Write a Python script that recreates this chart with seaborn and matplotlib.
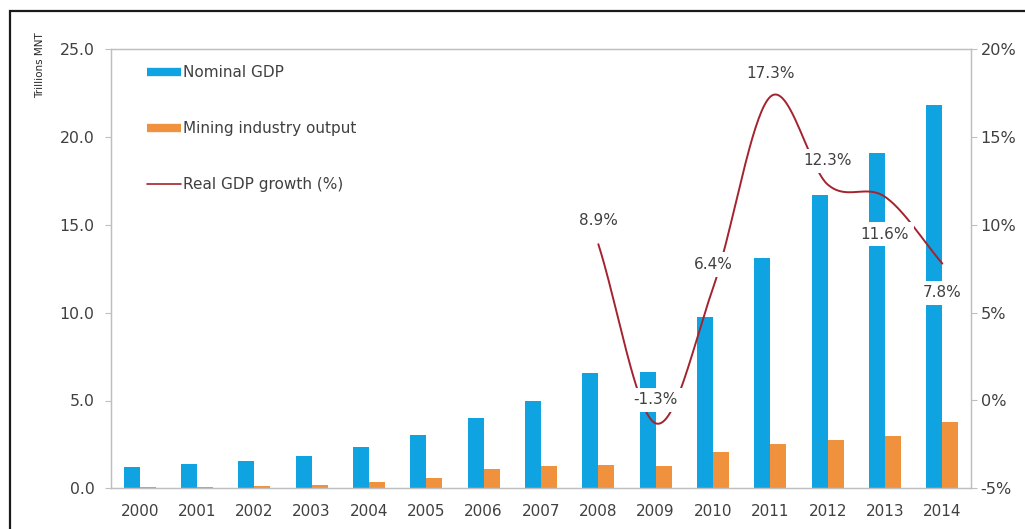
import numpy as np
import pandas as pd
import matplotlib
matplotlib.use("Agg")
import matplotlib.pyplot as plt
from matplotlib.lines import Line2D
from matplotlib.patches import Rectangle
import seaborn as sns

# ---- data -------------------------------------------------------------
years = [str(y) for y in range(2000, 2015)]
nominal_gdp = [1.22, 1.40, 1.54, 1.83, 2.35, 3.05, 3.98, 4.95, 6.55, 6.60,
               9.77, 13.10, 16.70, 19.10, 21.83]
mining_output = [0.08, 0.08, 0.14, 0.21, 0.36, 0.61, 1.12, 1.29, 1.31, 1.27,
                 2.07, 2.50, 2.73, 2.96, 3.80]
growth_years = [str(y) for y in range(2008, 2015)]
real_growth = [8.9, -1.3, 6.4, 17.3, 12.3, 11.6, 7.8]

left_ticks = [0, 5, 10, 15, 20, 25]
right_ticks = [-5, 0, 5, 10, 15, 20]

# ---- style -------------------------------------------------------------
sns.set_theme(style="white")
plt.rcParams["font.family"] = ["DejaVu Sans"]
TXT = "#404040"
GRID = "#BFBFBF"
BLUE = "#10A3E2"
ORANGE = "#F0913E"
RED = "#A3232E"

fig = plt.figure(figsize=(10.25, 5.29), dpi=100)
L, R, B, T = 111 / 1025, 971 / 1025, 1 - 488.3 / 529, 1 - 49.3 / 529
ax = fig.add_axes([L, B, R - L, T - B])

df = pd.DataFrame({
    "year": years * 2,
    "value": nominal_gdp + mining_output,
    "series": ["Nominal GDP"] * len(years) + ["Mining industry output"] * len(years),
})
sns.barplot(data=df, x="year", y="value", hue="series",
            palette=[BLUE, ORANGE], width=0.56, gap=0, saturation=1,
            linewidth=0, edgecolor="none", legend=False, ax=ax, zorder=2)

ax.set_xlim(-0.5, len(years) - 0.5)
ax.set_ylim(0, 25)
ax.set_yticks(left_ticks)
ax.set_yticklabels([f"{v:.1f}" for v in left_ticks])
ax.set_xlabel("")
ax.set_ylabel("")
ax.set_xticks(np.arange(-0.5, len(years), 1.0), minor=True)
ax.tick_params(axis="x", which="major", length=0, pad=11, labelsize=11, labelcolor=TXT)
ax.tick_params(axis="x", which="minor", length=5, width=0.8, color=GRID, direction="out")
ax.tick_params(axis="y", which="major", left=True, length=4, width=0.8, color=GRID,
               pad=8, labelsize=11.3, labelcolor=TXT, direction="out")
for s in ax.spines.values():
    s.set_color(GRID)
    s.set_linewidth(0.9)

# ---- real growth line on secondary axis ---------------------------------
ax2 = ax.twinx()
ax2.set_ylim(-5, 20)
ax2.set_yticks(right_ticks)
ax2.set_yticklabels([f"{v}%" for v in right_ticks])
ax2.tick_params(axis="y", right=True, length=4, width=0.8, color=GRID, pad=3,
                labelsize=11.6, labelcolor=TXT, direction="out")
for s in ax2.spines.values():
    s.set_color(GRID)
    s.set_linewidth(0.9)
ax2.grid(False)

xs = np.array([years.index(y) for y in growth_years], dtype=float)
ys = np.array(real_growth, dtype=float)

# smoothed line: cubic Hermite through the growth values,
# central-difference tangents inside, chord tangents at both ends
n = len(ys)
m = np.empty(n)
m[1:-1] = (ys[2:] - ys[:-2]) / 2
m[0] = ys[1] - ys[0]
m[-1] = ys[-1] - ys[-2]
t = np.linspace(0, 1, 40)
h00 = 2 * t**3 - 3 * t**2 + 1
h10 = t**3 - 2 * t**2 + t
h01 = -2 * t**3 + 3 * t**2
h11 = t**3 - t**2
cx, cy = [], []
for i in range(n - 1):
    cx.append(xs[i] + (xs[i + 1] - xs[i]) * t)
    cy.append(h00 * ys[i] + h10 * m[i] + h01 * ys[i + 1] + h11 * m[i + 1])
ax2.plot(np.concatenate(cx), np.concatenate(cy), color=RED, lw=1.4, zorder=3)

# data labels (white boxes sit over bars and line)
offsets = [17, 17, 17, 17, 17, -27, -21]
for x, y, off in zip(xs, ys, offsets):
    ax2.annotate(f"{y:.1f}%", (x, y), xytext=(0, off), textcoords="offset points",
                 ha="center", va="center", fontsize=11, color=TXT, zorder=5,
                 bbox=dict(boxstyle="square,pad=0.3", fc="white", ec="none"))

# ---- legend -----------------------------------------------------------------
handles = [
    Line2D([0], [0], color=BLUE, lw=6, solid_capstyle="butt"),
    Line2D([0], [0], color=ORANGE, lw=6, solid_capstyle="butt"),
    Line2D([0], [0], color=RED, lw=1.2),
]
labels = ["Nominal GDP", "Mining industry output", "Real GDP growth (%)"]
leg = ax2.legend(handles, labels, loc="upper left",
                 bbox_to_anchor=(30 / 860, 1 - 10 / 439), borderaxespad=0,
                 frameon=False, fontsize=11, labelspacing=2.68,
                 handlelength=2.2, handletextpad=0.15, labelcolor=TXT)

fig.text(40 / 1025, 1 - 32 / 529, "Trillions MNT", rotation=90, ha="center",
         va="top", fontsize=7.5, color="#262626")

# outer frame
fig.add_artist(Rectangle((10 / 1025, -0.2), 1.2, 1.2 - 10.5 / 529,
                         transform=fig.transFigure, fill=False,
                         ec="#1a1a1a", lw=1.6, clip_on=False))

fig.savefig("out.png", dpi=100, facecolor="white")
